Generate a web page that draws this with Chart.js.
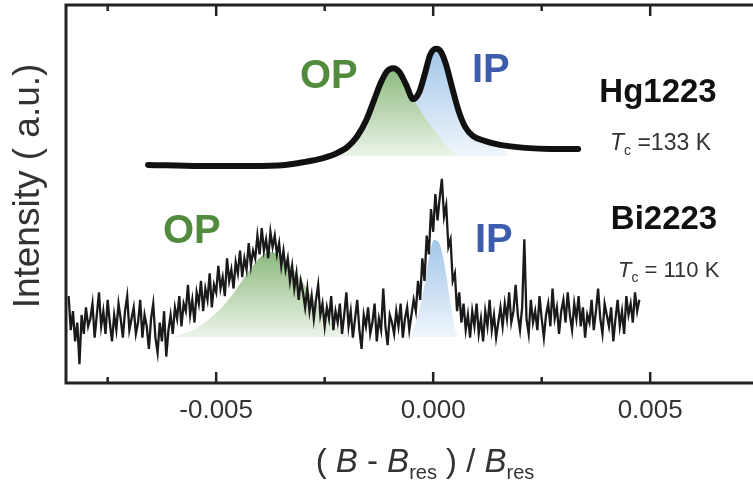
<!DOCTYPE html>
<html>
<head>
<meta charset="utf-8">
<script src="https://cdn.jsdelivr.net/npm/chart.js@4.4.1/dist/chart.umd.min.js"></script>
<style>
html, body { margin: 0; padding: 0; background: #fff; overflow: hidden; }
#wrap { width: 780px; height: 495px; }
</style>
</head>
<body>
<div id="wrap"><canvas id="esr" width="780" height="495"></canvas></div>
<script>
// axis
const xMin = -0.00846
const xMax = 0.00753
const xTicks = [-0.0075, -0.005, -0.0025, 0, 0.0025, 0.005, 0.0075]
const xTickLabels = ['', '-0.005', '', '0.000', '', '0.005', '']

// Hg1223 (smooth curve)
const hgX = [-0.00657, -0.00537, -0.00422, -0.00341, -0.00295, -0.00260, -0.00226, -0.00198, -0.00175, -0.00154,
  -0.00136, -0.00120, -0.00106, -0.00092, -0.00078, -0.00062, -0.00046, -0.00032, -0.00018, -0.00007,
  0.00007, 0.00018, 0.00030, 0.00044, 0.00058, 0.00074, 0.00092, 0.00120, 0.00154, 0.00212, 0.00270, 0.00334]
const hgY = [57.7, 57.4, 57.4, 57.7, 58.5, 59.3, 60.6, 62.4, 65.3, 69.6,
  74.9, 79.6, 82.5, 83.3, 82.3, 78.8, 75.1, 77.0, 82.3, 86.8,
  88.4, 87.6, 84.1, 78.0, 72.2, 67.7, 65.3, 64.0, 63.0, 62.2, 61.9, 61.9]
// Hg1223 components (filled)
const hgBase = 60.0
const hgOpX = [-0.00233, -0.00214, -0.00198, -0.00175, -0.00154, -0.00136, -0.00120, -0.00106, -0.00092, -0.00078,
  -0.00062, -0.00046, -0.00025, -0.00002, 0.00021, 0.00044, 0.00062]
const hgOpY = [60.0, 61.4, 62.4, 65.3, 69.6, 74.9, 79.6, 82.5, 83.3, 82.3,
  78.8, 75.1, 71.2, 67.5, 64.0, 61.1, 60.0]
const hgIpX = [-0.00046, -0.00032, -0.00018, -0.00007, 0.00007, 0.00018, 0.00030, 0.00044, 0.00058, 0.00074, 0.00092, 0.00120, 0.00154, 0.00175]
const hgIpY = [75.1, 77.0, 82.3, 86.8, 88.4, 87.6, 84.1, 78.0, 72.2, 67.7, 65.3, 64.0, 63.0, 60.0]

// Bi2223 (noisy trace)
const biStart = -0.0084
const biStep = 0.00005
const biY = [
  23, 14, 19, 11, 16, 5, 18, 13, 20, 15,
  17, 21, 12, 18, 24, 15, 19, 13, 22, 16,
  11, 18, 14, 21, 17, 12, 19, 23, 14, 17,
  20, 13, 16, 22, 12, 18, 15, 9, 17, 21,
  12, 8, 16, 11, 19, 7, 14, 18, 13, 20,
  17, 23, 15, 21, 19, 26, 18, 22, 16, 24,
  21, 27, 19, 25, 22, 29, 20, 26, 24, 31,
  25, 28, 23, 33, 27, 30, 25, 32, 29, 35,
  28, 33, 30, 37, 31, 35, 33, 39, 34, 41,
  35, 38, 33, 40, 36, 39, 34, 37, 31, 35,
  30, 33, 27, 31, 25, 29, 22, 27, 24, 20,
  25, 19, 23, 17, 22, 26, 18, 21, 15, 20,
  17, 23, 14, 19, 16, 21, 13, 18, 24, 15,
  19, 12, 17, 22, 14, 9, 18, 15, 20, 13,
  16, 21, 11, 17, 14, 25, 15, 10, 18, 16,
  13, 19, 15, 21, 12, 17, 20, 14, 18, 22,
  19, 27, 22, 33, 27, 39, 34, 46, 40, 50,
  43, 49, 54, 44, 47, 36, 38, 27, 29, 19,
  24, 16, 21, 14, 18, 12, 19, 15, 21, 13,
  17, 11, 19, 15, 22, 14, 18, 12, 16, 20,
  15, 21, 17, 24, 16, 19, 26, 18, 14, 20,
  38, 17, 13, 22, 16, 19, 14, 23, 17, 12,
  18, 21, 15, 25, 17, 20, 13, 19, 22, 16,
  24, 18, 14, 21, 17, 23, 15, 20, 12, 18,
  16, 22, 14, 19, 25, 17, 13, 21, 18, 15,
  20, 11, 17, 22, 15, 19, 13, 23, 18, 21,
  16, 24, 19, 22]
// Bi2223 components (filled)
const biBase = 12.2
const biOpX = [-0.00601, -0.00548, -0.00502, -0.00463, -0.00426, -0.00398, -0.00375, -0.00348, -0.00318, -0.00283, -0.00249, -0.00214, -0.00187]
const biOpY = [12.2, 14.3, 18.3, 23.3, 29.4, 33.3, 34.7, 33.3, 29.4, 23.5, 17.7, 13.8, 12.2]
const biIpX = [-0.00053, -0.00035, -0.00018, -0.00007, 0.00002, 0.00014, 0.00025, 0.00037, 0.00051, 0.00058]
const biIpY = [12.2, 18.0, 27.2, 34.6, 37.8, 37.0, 32.0, 23.3, 14.0, 12.2]

const green = '#528a3e'
const blue = '#3d5cae'
const fontFam = '"Liberation Sans", Arial, sans-serif'

const pts = (xs, ys) => xs.map((x, i) => ({ x: x, y: ys[i] }))
const biPts = biY.map((y, i) => ({ x: biStart + i * biStep, y: y }))

// 渐变填充
function fade(cTop, cBottom, vTop, vBase) {
  return (c) => {
    const chart = c.chart
    if (!chart.chartArea) return cTop
    const y = chart.scales.y
    const g = chart.ctx.createLinearGradient(0, y.getPixelForValue(vTop), 0, y.getPixelForValue(vBase))
    g.addColorStop(0, cTop)
    g.addColorStop(1, cBottom)
    return g
  }
}

// 富文本 (斜体 / 下标)
function rich(ctx, parts, x, y, size, align) {
  const fontOf = p => (p.i ? 'italic ' : '') + (p.b ? 'bold ' : '') + Math.round(p.s ? size * 0.62 : size) + 'px ' + fontFam
  let w = 0
  parts.forEach(p => { ctx.font = fontOf(p); w += ctx.measureText(p.t).width })
  let cx = align === 'center' ? x - w / 2 : x
  ctx.textAlign = 'left'
  ctx.textBaseline = 'alphabetic'
  parts.forEach(p => {
    ctx.font = fontOf(p)
    ctx.fillText(p.t, cx, y + (p.s ? size * 0.22 : 0))
    cx += ctx.measureText(p.t).width
  })
}

const framePlugin = {
  id: 'frame',
  afterDatasetsDraw(chart) {
    const { ctx, chartArea: a } = chart
    const xs = chart.scales.x
    ctx.save()
    ctx.strokeStyle = '#222'
    ctx.lineWidth = 3
    ctx.strokeRect(a.left, a.top, a.right - a.left, a.bottom - a.top)
    ctx.lineWidth = 2.5
    xTicks.forEach((v, i) => {
      const px = xs.getPixelForValue(v)
      const len = xTickLabels[i] ? 11 : 6
      ctx.beginPath()
      ctx.moveTo(px, a.bottom)
      ctx.lineTo(px, a.bottom - len)
      ctx.moveTo(px, a.top)
      ctx.lineTo(px, a.top + len)
      ctx.stroke()
    })
    ctx.restore()
  },
  afterDraw(chart) {
    const ctx = chart.ctx
    ctx.save()
    ctx.fillStyle = '#333'
    // y 轴标题
    ctx.save()
    ctx.translate(39, 186)
    ctx.rotate(-Math.PI / 2)
    ctx.font = '37px ' + fontFam
    ctx.textAlign = 'center'
    ctx.textBaseline = 'alphabetic'
    ctx.fillText('Intensity ( a.u.)', 0, 0)
    ctx.restore()
    // x 轴标题
    rich(ctx, [{ t: '( ' }, { t: 'B', i: 1 }, { t: ' - ' }, { t: 'B', i: 1 }, { t: 'res', s: 1 },
      { t: ' ) / ' }, { t: 'B', i: 1 }, { t: 'res', s: 1 }], 425, 472, 33, 'center')
    // 样品标签
    ctx.fillStyle = '#111'
    rich(ctx, [{ t: 'Hg1223', b: 1 }], 658, 102, 33, 'center')
    rich(ctx, [{ t: 'Bi2223', b: 1 }], 664, 229, 33, 'center')
    ctx.fillStyle = '#333'
    rich(ctx, [{ t: 'T', i: 1 }, { t: 'c', s: 1 }, { t: ' =133 K' }], 610, 150, 23, 'left')
    rich(ctx, [{ t: 'T', i: 1 }, { t: 'c', s: 1 }, { t: ' = 110 K' }], 618, 277, 22, 'left')
    // OP / IP
    ctx.fillStyle = green
    rich(ctx, [{ t: 'OP', b: 1 }], 300, 88, 40, 'left')
    rich(ctx, [{ t: 'OP', b: 1 }], 163, 243, 40, 'left')
    ctx.fillStyle = blue
    rich(ctx, [{ t: 'IP', b: 1 }], 472, 82, 40, 'left')
    rich(ctx, [{ t: 'IP', b: 1 }], 475, 252, 40, 'left')
    ctx.restore()
  }
}

const blueTop = 'rgb(162,198,233)'
const blueBottom = 'rgb(240,246,252)'
const greenTop = 'rgb(140,185,125)'
const greenBottom = 'rgb(236,244,233)'

new Chart(document.getElementById('esr'), {
  type: 'line',
  data: {
    datasets: [
      {
        data: pts(hgIpX, hgIpY), fill: { value: hgBase }, borderWidth: 0, pointRadius: 0,
        cubicInterpolationMode: 'monotone', order: 3,
        backgroundColor: fade(blueTop, blueBottom, 88.4, hgBase)
      },
      {
        data: pts(hgOpX, hgOpY), fill: { value: hgBase }, borderWidth: 0, pointRadius: 0,
        cubicInterpolationMode: 'monotone', order: 2,
        backgroundColor: fade(greenTop, greenBottom, 83.3, hgBase)
      },
      {
        data: pts(biIpX, biIpY), fill: { value: biBase }, borderWidth: 0, pointRadius: 0,
        cubicInterpolationMode: 'monotone', order: 3,
        backgroundColor: fade(blueTop, blueBottom, 37.8, biBase)
      },
      {
        data: pts(biOpX, biOpY), fill: { value: biBase }, borderWidth: 0, pointRadius: 0,
        cubicInterpolationMode: 'monotone', order: 2,
        backgroundColor: fade(greenTop, greenBottom, 34.7, biBase)
      },
      {
        data: biPts, borderColor: '#1a1a1a', borderWidth: 2.3, pointRadius: 0,
        tension: 0, fill: false, order: 1
      },
      {
        data: pts(hgX, hgY), borderColor: '#111', borderWidth: 6, pointRadius: 0,
        cubicInterpolationMode: 'monotone', borderCapStyle: 'round', borderJoinStyle: 'round',
        fill: false, order: 0
      }
    ]
  },
  options: {
    responsive: false,
    animation: false,
    layout: { padding: { left: 66, top: 5, right: 20, bottom: 0 } },
    plugins: { legend: { display: false }, tooltip: { enabled: false } },
    scales: {
      x: {
        type: 'linear', min: xMin, max: xMax,
        grid: { display: false, drawTicks: false },
        border: { display: false },
        afterBuildTicks: s => { s.ticks = xTicks.map(v => ({ value: v })) },
        afterFit: s => { s.height = 112 },
        ticks: {
          color: '#333', padding: 12, maxRotation: 0, autoSkip: false,
          font: { family: fontFam, size: 26 },
          callback: (v, i) => xTickLabels[i]
        }
      },
      y: { display: false, min: 0, max: 100 }
    }
  },
  plugins: [framePlugin]
})
</script>
</body>
</html>
